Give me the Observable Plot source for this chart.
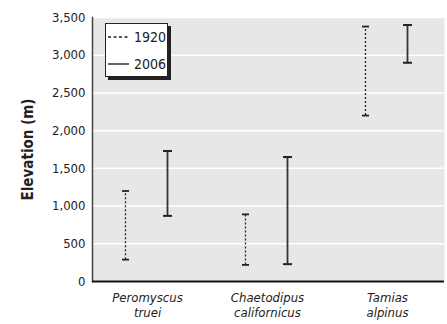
<!DOCTYPE html>
<html>
<head>
<meta charset="utf-8">
<script src="https://cdn.jsdelivr.net/npm/d3@7"></script>
<script src="https://cdn.jsdelivr.net/npm/@observablehq/plot@0.6"></script>
<style>
  html, body { margin: 0; padding: 0; background: #fff; }
  #wrap { position: relative; width: 447px; height: 324px; font-family: "Liberation Sans Narrow", "DejaVu Sans Condensed", "Roboto", sans-serif; }
  #legend { position: absolute; left: 105px; top: 23px; width: 61px; height: 52px; background: #fff; border: 1px solid #222; box-shadow: 3px 3px 0 #222; font-size: 14px; color: #222; }
  #legend .row { position: absolute; left: 2px; height: 16px; display: flex; align-items: center; }
  #legend svg { margin-right: 5px; }
</style>
</head>
<body>
<div id="wrap"></div>
<script>
const species = ["Peromyscus truei", "Chaetodipus californicus", "Tamias alpinus"];
const tickLabels = ["Peromyscus\ntruei", "Chaetodipus\ncalifornicus", "Tamias\nalpinus"];
const years = ["1920", "2006"];
const low1920 = [290, 220, 2200];
const high1920 = [1200, 890, 3380];
const low2006 = [870, 230, 2900];
const high2006 = [1730, 1650, 3400];
const yTicks = [0, 500, 1000, 1500, 2000, 2500, 3000, 3500];

const d1920 = species.map((s, i) => ({species: s, lo: low1920[i], hi: high1920[i]}));
const d2006 = species.map((s, i) => ({species: s, lo: low2006[i], hi: high2006[i]}));

const cap = {draw(ctx, size) { const r = Math.sqrt(size / Math.PI); ctx.moveTo(-r, 0); ctx.lineTo(r, 0); }};
const ends = (data) => data.flatMap(d => [{species: d.species, y: d.lo}, {species: d.species, y: d.hi}]);

const chart = Plot.plot({
  width: 447,
  height: 324,
  marginTop: 17,
  marginBottom: 43,
  marginLeft: 92,
  marginRight: 3,
  style: {fontFamily: '"Liberation Sans Narrow", "DejaVu Sans Condensed", sans-serif', fontSize: "13px", color: "#222", background: "transparent"},
  x: {type: "band", domain: species, range: [86, 447], padding: 0},
  y: {domain: [0, 3500]},
  marks: [
    Plot.frame({fill: "#e6e7e8", stroke: null}),
    Plot.gridY(yTicks, {stroke: "#fff", strokeOpacity: 1, strokeWidth: 1.5}),
    Plot.frame({anchor: "left", stroke: "#444", strokeWidth: 1.5}),
    Plot.ruleY([0], {stroke: "#111", strokeWidth: 2}),
    Plot.axisY(yTicks, {tickSize: 0, tickPadding: 7, tickFormat: d3.format(","), fontSize: 13,
      label: "Elevation (m)", labelAnchor: "center", labelArrow: "none", labelOffset: 70}),
    Plot.axisX({tickSize: 0, tickPadding: 9, tickFormat: (d) => tickLabels[species.indexOf(d)], fontStyle: "italic", fontSize: 13, lineHeight: 1.2, label: null}),
    Plot.ruleX(d1920, {x: "species", y1: "lo", y2: "hi", dx: -22, stroke: "#222", strokeWidth: 1.3, strokeDasharray: "2,2"}),
    Plot.dot(ends(d1920), {x: "species", y: "y", dx: -22, symbol: cap, r: 3.5, stroke: "#222", strokeWidth: 1.8, fill: "none"}),
    Plot.ruleX(d2006, {x: "species", y1: "lo", y2: "hi", dx: 20, stroke: "#333", strokeWidth: 1.8}),
    Plot.dot(ends(d2006), {x: "species", y: "y", dx: 20, symbol: cap, r: 4.5, stroke: "#222", strokeWidth: 2, fill: "none"})
  ]
});
chart.querySelectorAll("text").forEach(t => { if (t.textContent === "Elevation (m)") { t.setAttribute("font-weight", "bold"); t.setAttribute("font-size", "15"); } });

const wrap = document.getElementById("wrap");
wrap.appendChild(chart);

const legend = document.createElement("div");
legend.id = "legend";
legend.innerHTML = `
  <div class="row" style="top:5px"><svg width="21" height="4"><line x1="0" y1="2" x2="21" y2="2" stroke="#222" stroke-width="1.3" stroke-dasharray="3,2.5"/></svg><span>${years[0]}</span></div>
  <div class="row" style="top:32px"><svg width="21" height="4"><line x1="0" y1="2" x2="21" y2="2" stroke="#333" stroke-width="1.5"/></svg><span>${years[1]}</span></div>`;
wrap.appendChild(legend);
</script>
</body>
</html>
